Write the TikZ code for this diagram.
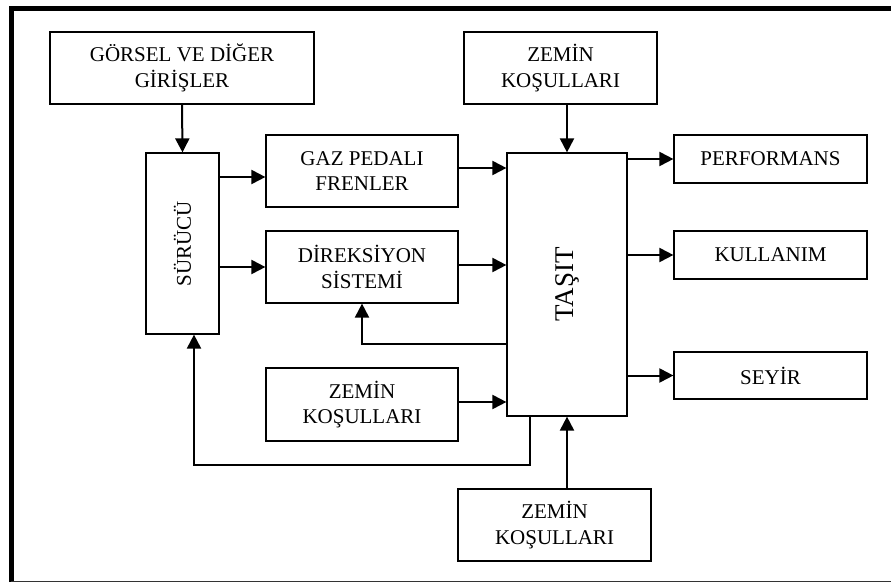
\documentclass[tikz,border=0pt]{standalone}
\usepackage{fontspec}
\setmainfont{Liberation Serif}
\usetikzlibrary{arrows.meta}

\begin{document}
\begin{tikzpicture}[x=1pt,y=-1pt,
box/.style={rectangle,draw=black,line width=1.2pt,fill=white,align=center,inner sep=0pt,minimum width=192pt,minimum height=72pt,font=\fontsize{21}{25.6}\selectfont},
arrow/.style={-{Triangle[length=14pt,width=14pt]},draw=black,line width=2pt}]
\useasboundingbox (0,0) rectangle (891,583);
% frame
\draw[line width=5pt] (11,582) -- (11,8.5) -- (891,8.5);
\draw[line width=1.5pt,black!80] (11,581.5) -- (891,581.5);
% boxes
\node[box,minimum width=264pt] (gorsel) at (182,68) {GÖRSEL VE DİĞER\\GİRİŞLER};
\node[box,minimum width=73pt,minimum height=181pt] (surucu) at (182.5,243.5) {};
\node[rotate=90,font=\fontsize{21}{25.6}\selectfont] at (surucu) {SÜRÜCÜ};
\node[box] (gaz) at (362,171) {GAZ PEDALI\\FRENLER};
\node[box] (direksiyon) at (362,267) {DİREKSİYON\\SİSTEMİ};
\node[box,minimum height=73pt] (zeminorta) at (362,404.5) {ZEMİN\\KOŞULLARI};
\node[box,minimum width=120pt,minimum height=263pt] (tasit) at (567,284.5) {};
\node[rotate=90,font=\fontsize{27}{30}\selectfont] at (tasit) {TAŞIT};
\node[box,minimum width=193pt] (zeminust) at (560.5,68) {ZEMİN\\KOŞULLARI};
\node[box,minimum width=193pt] (zeminalt) at (554.5,525) {ZEMİN\\KOŞULLARI};
\node[box,minimum width=193pt,minimum height=48pt] (performans) at (770.5,159) {PERFORMANS};
\node[box,minimum width=193pt,minimum height=48pt] (kullanim) at (770.5,255) {KULLANIM};
\node[box,minimum width=193pt,minimum height=47pt] (seyir) at (770.5,375.5) {SEYİR};
% connections
\draw[arrow] (gorsel.south) -- (surucu.north);
\draw[arrow] ([yshift=-6pt]gaz.west -| surucu.east) -- ([yshift=-6pt]gaz.west);
\draw[arrow] (direksiyon.west -| surucu.east) -- (direksiyon.west);
\draw[arrow] ([yshift=3pt]gaz.east) -- ([yshift=3pt]gaz.east -| tasit.west);
\draw[arrow] ([yshift=2pt]direksiyon.east) -- ([yshift=2pt]direksiyon.east -| tasit.west);
\draw[arrow] ([yshift=2.5pt]zeminorta.east) -- ([yshift=2.5pt]zeminorta.east -| tasit.west);
\draw[arrow] ([yshift=-59.5pt]tasit.west) -| (direksiyon.south);
\draw[arrow] ([xshift=-37pt]tasit.south) -- ++(0,48) -| ([xshift=11.5pt]surucu.south);
\draw[arrow] (zeminust.south -| tasit.north) -- (tasit.north);
\draw[arrow] (zeminalt.north -| tasit.south) -- (tasit.south);
\foreach \x in {performans,kullanim,seyir}{\draw[arrow] (tasit.east |- \x.west) -- (\x.west);}
\end{tikzpicture}
\end{document}
